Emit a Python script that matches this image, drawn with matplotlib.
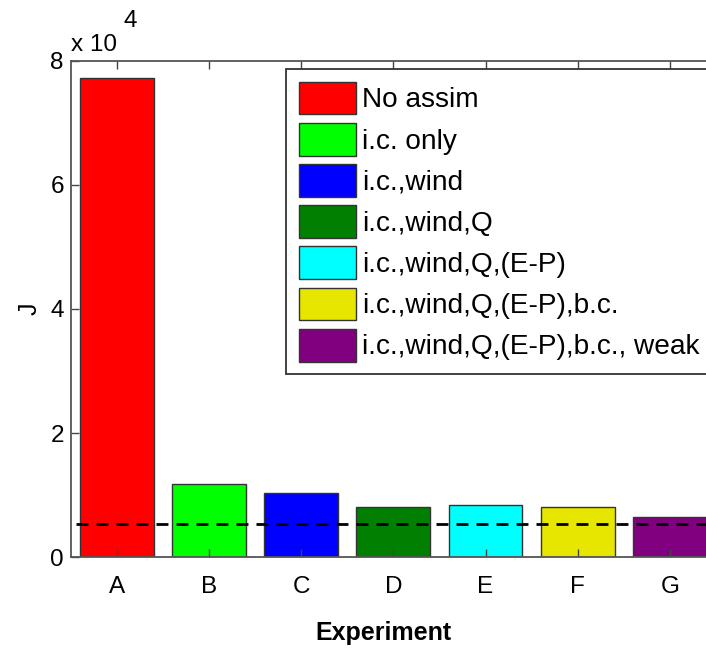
import matplotlib
matplotlib.use("Agg")
import matplotlib.pyplot as plt
from matplotlib.ticker import FuncFormatter

# data
experiments = ["A", "B", "C", "D", "E", "F", "G"]
J_values = [77200, 11700, 10300, 8100, 8400, 8100, 6400]
J_ref = 5400
labels = ["No assim", "i.c. only", "i.c.,wind", "i.c.,wind,Q",
          "i.c.,wind,Q,(E-P)", "i.c.,wind,Q,(E-P),b.c.",
          "i.c.,wind,Q,(E-P),b.c., weak"]
colors = ["#ff0000", "#00ff00", "#0000ff", "#007f00",
          "#00ffff", "#e6e600", "#800080"]

plt.rcParams['font.family'] = ['Liberation Sans', 'DejaVu Sans']

fig = plt.figure(figsize=(7.06, 6.5), dpi=100)
# axes runs past the right edge (the original is cropped there)
ax = fig.add_axes([70.7 / 706, 1 - 557 / 650, (716 - 70.7) / 706, (557 - 61) / 650])

x = list(range(1, len(experiments) + 1))
bars = ax.bar(x, J_values, width=0.8, color=colors, edgecolor="#333333", linewidth=1.0)

# reference level
ax.axhline(J_ref, xmin=0.008, xmax=1, color="black", lw=2.0, ls=(0, (4.3, 2.9)))

ax.set_xlim(0.5, 7.5)
ax.set_ylim(0, 80000)
ax.set_xticks(x)
ax.set_xticklabels(experiments)
ax.set_yticks([0, 20000, 40000, 60000, 80000])
ax.yaxis.set_major_formatter(FuncFormatter(lambda v, p: "%g" % (v / 1e4)))

ax.tick_params(axis="both", direction="in", length=6, width=1, color="#444444",
               labelsize=17.5, top=True, right=True)
ax.tick_params(axis="x", pad=14)
ax.tick_params(axis="y", pad=5)
for s in ax.spines.values():
    s.set_color("#555555")
    s.set_linewidth(1.3)

ax.set_xlabel("Experiment", fontsize=18, fontweight="bold")
ax.xaxis.set_label_coords(0.484, -0.13)
ax.set_ylabel("J", fontsize=18)
ax.yaxis.set_label_coords(-0.045, 0.5)

# offset text "x 10^4"
fig.text(71 / 706, 1 - 45 / 650, "x 10", fontsize=17.5, va="center", ha="left")
fig.text(123 / 706, 1 - 21 / 650, "4", fontsize=17.5, va="center", ha="left")

leg = ax.legend(bars.patches, labels, loc="upper left",
                bbox_to_anchor=(286 / 706, 1 - 69 / 650),
                bbox_transform=fig.transFigure,
                fontsize=20.2, fancybox=False, framealpha=1,
                handlelength=2.03, handleheight=1.42, handletextpad=0.22,
                labelspacing=0.30, borderpad=0.45, borderaxespad=0)
leg.get_frame().set_edgecolor("#333333")
leg.get_frame().set_linewidth(1.3)

fig.savefig("out.png", dpi=100)
